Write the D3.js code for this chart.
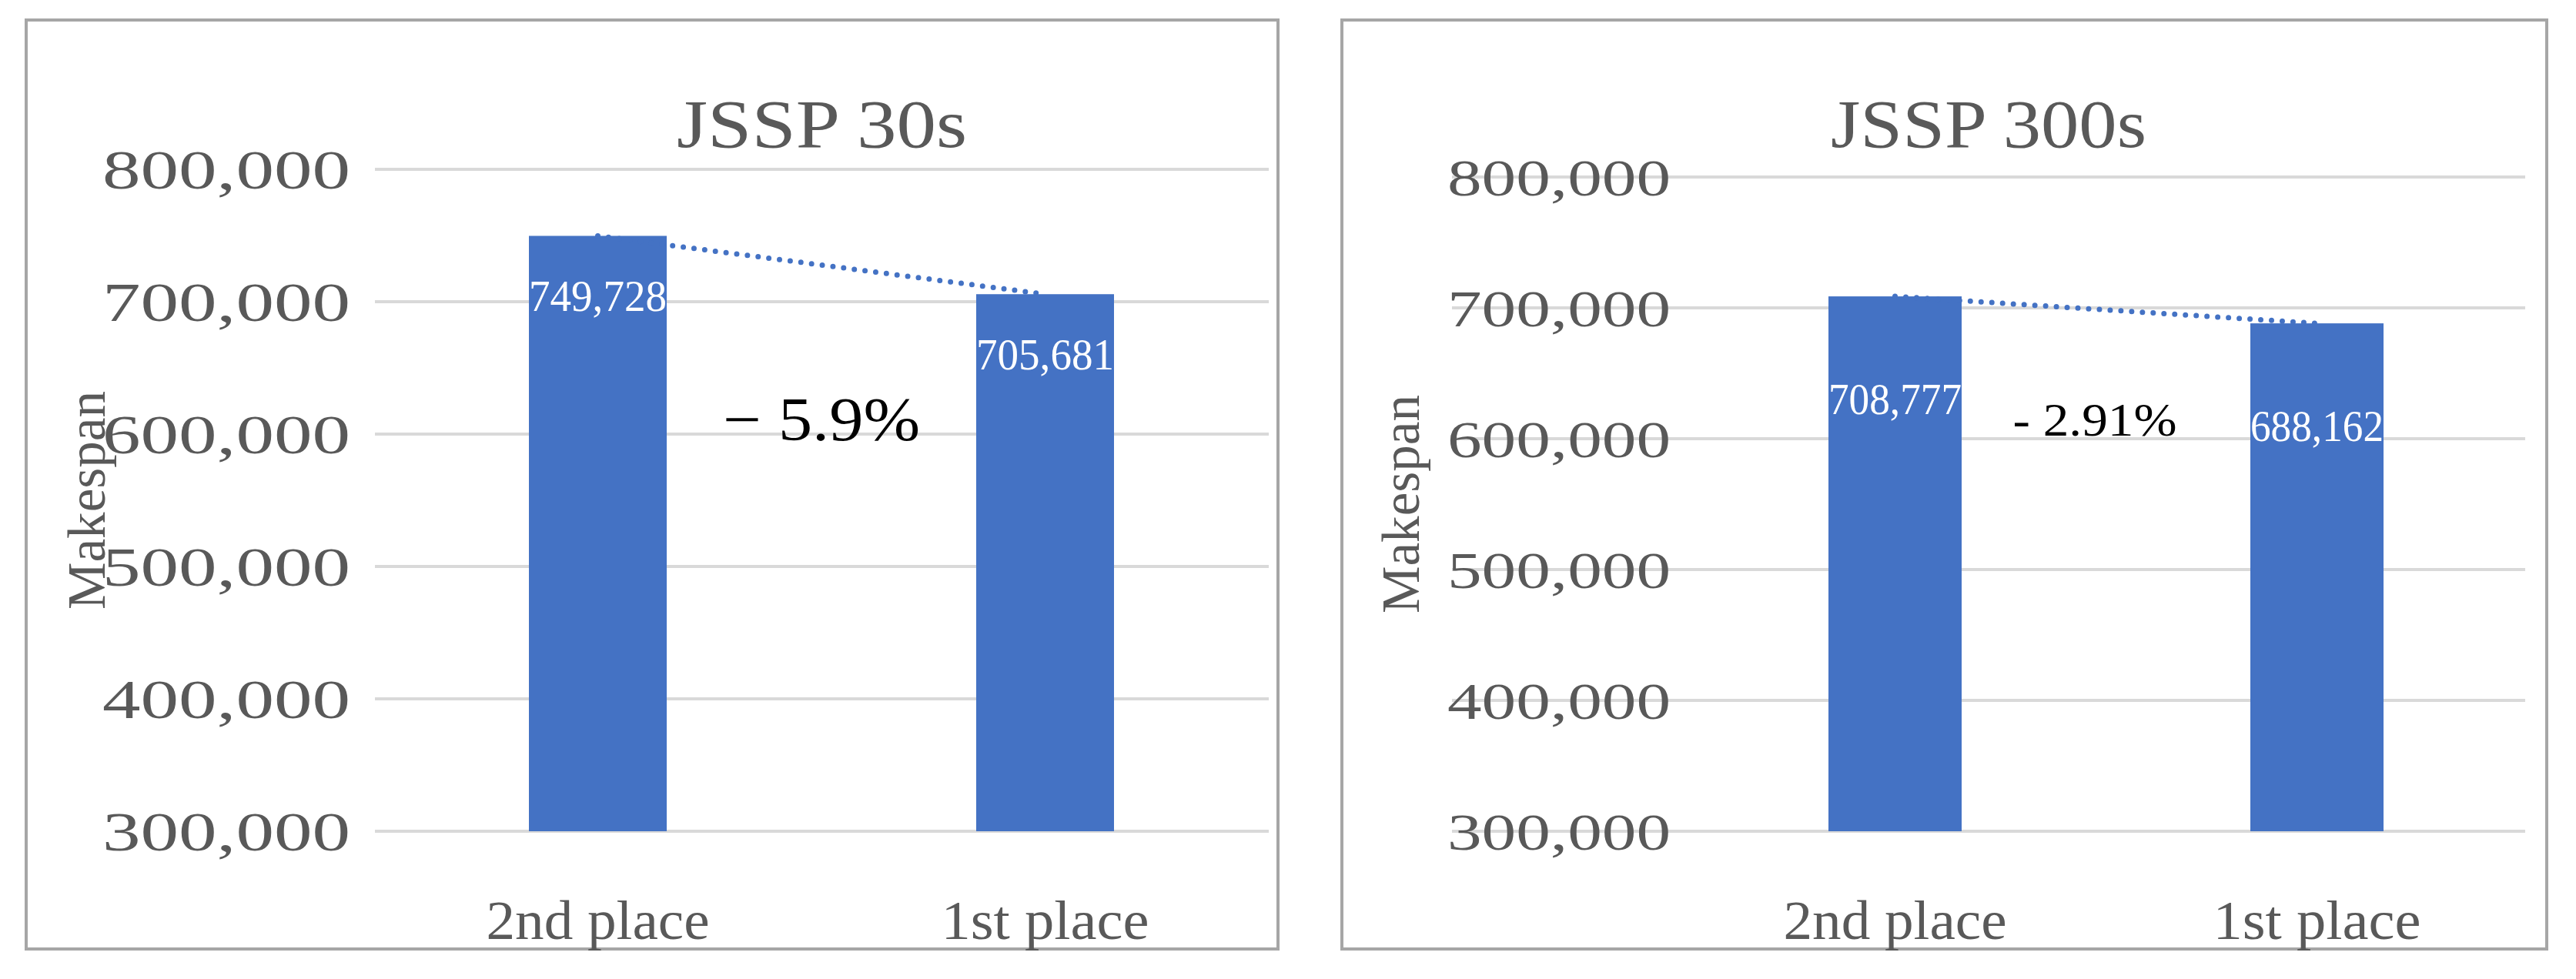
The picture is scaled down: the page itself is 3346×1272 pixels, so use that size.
<!DOCTYPE html>
<html><head><meta charset="utf-8">
<script src="https://cdn.jsdelivr.net/npm/d3@7"></script>
<style>body{margin:0;background:#fff}svg{display:block}</style>
</head><body>
<svg id="chart" width="3346" height="1272"></svg>
<script>
const categories = ["2nd place", "1st place"];
const values30 = [749728, 705681];
const values300 = [708777, 688162];
const yTicks = [300000, 400000, 500000, 600000, 700000, 800000];
const titles = ["JSSP 30s", "JSSP 300s"];
const changes = ["\u2212 5.9%", "- 2.91%"];

const panels = [
  { values: values30, title: titles[0], change: changes[0], box: [34, 26, 1660, 1233],
    plot: [487, 1648, 220, 1080], barSpan: [687, 1447], barW: 179, tickX: 455, tickW: 322, tickF: 72,
    yLabX: 111, labOff: 98, changeFont: 80, changeW: 256, changeX: 1067, titleW: 377 },
  { values: values300, title: titles[1], change: changes[1], box: [1743, 26, 3308, 1233],
    plot: [1886, 3280, 230, 1080], barSpan: [2375, 3096], barW: 173, tickX: 2170, tickW: 290, tickF: 68,
    yLabX: 1818, labOff: 153, changeFont: 62, changeW: 213, changeX: 2721, titleW: 410 }
];

const svg = d3.select("#chart");
const font = "'Liberation Serif', 'DejaVu Serif', serif";
const blue = "#4472c4";

panels.forEach(p => {
  const [bx0, by0, bx1, by1] = p.box;
  svg.append("rect").attr("x", bx0).attr("y", by0).attr("width", bx1 - bx0).attr("height", by1 - by0)
    .attr("fill", "#fff").attr("stroke", "#a6a6a6").attr("stroke-width", 4);

  const [px0, px1, py0, py1] = p.plot;
  const y = d3.scaleLinear().domain([300000, 800000]).range([py1, py0]);
  const span = p.barSpan[1] - p.barSpan[0];
  const pi = (span - 2 * p.barW) / (span - p.barW);
  const x = d3.scaleBand().domain(categories).range(p.barSpan).paddingInner(pi).paddingOuter(0);

  const g = svg.append("g");
  g.selectAll(".grid").data(yTicks).join("line")
    .attr("x1", px0).attr("x2", px1).attr("y1", d => y(d)).attr("y2", d => y(d))
    .attr("stroke", "#d9d9d9").attr("stroke-width", 4);

  g.selectAll(".tick").data(yTicks).join("text")
    .attr("x", p.tickX).attr("y", d => y(d)).attr("dy", "0.35em").attr("text-anchor", "end")
    .attr("font-family", font).attr("font-size", p.tickF).attr("fill", "#595959")
    .attr("textLength", p.tickW).attr("lengthAdjust", "spacingAndGlyphs")
    .text(d => d3.format(",")(d));

  g.append("text").attr("transform", `translate(${p.yLabX},${(py0 + py1) / 2}) rotate(-90)`)
    .attr("text-anchor", "middle").attr("dy", "0.35em")
    .attr("font-family", font).attr("font-size", 70).attr("fill", "#595959")
    .attr("textLength", 284).attr("lengthAdjust", "spacingAndGlyphs").text("Makespan");

  g.append("text").attr("x", (px0 + px1) / 2).attr("y", 160).attr("dy", "0.35em").attr("text-anchor", "middle")
    .attr("font-family", font).attr("font-size", 88).attr("fill", "#595959")
    .attr("textLength", p.titleW).attr("lengthAdjust", "spacingAndGlyphs").text(p.title);

  const bars = categories.map((c, i) => ({ c, v: p.values[i], x0: x(c), w: x.bandwidth() }));
  g.selectAll(".bar").data(bars).join("rect")
    .attr("x", d => d.x0).attr("width", d => d.w)
    .attr("y", d => y(d.v)).attr("height", d => y(300000) - y(d.v)).attr("fill", blue);

  const line = d3.line().x(d => d.x0 + d.w / 2).y(d => y(d.v));
  g.append("path").attr("d", line(bars)).attr("fill", "none").attr("stroke", blue)
    .attr("stroke-width", 7).attr("stroke-dasharray", "0 14").attr("stroke-linecap", "round");

  g.selectAll(".val").data(bars).join("text")
    .attr("x", d => d.x0 + d.w / 2).attr("y", d => y(d.v) + p.labOff).attr("text-anchor", "middle")
    .attr("font-family", font).attr("font-size", 56).attr("fill", "#fff")
    .attr("textLength", d => d.w).attr("lengthAdjust", "spacingAndGlyphs")
    .text(d => d3.format(",")(d.v));

  g.append("text").attr("x", p.changeX).attr("y", 544).attr("dy", "0.35em").attr("text-anchor", "middle")
    .attr("font-family", font).attr("font-size", p.changeFont).attr("fill", "#000")
    .attr("textLength", p.changeW).attr("lengthAdjust", "spacingAndGlyphs").text(p.change);

  g.selectAll(".xl").data(bars).join("text")
    .attr("x", d => d.x0 + d.w / 2).attr("y", 1195).attr("dy", "0.35em").attr("text-anchor", "middle")
    .attr("font-family", font).attr("font-size", 72).attr("fill", "#595959")
    .attr("textLength", d => d.c.startsWith("2") ? 290 : 270).attr("lengthAdjust", "spacingAndGlyphs")
    .text(d => d.c);
});
</script>
</body></html>
